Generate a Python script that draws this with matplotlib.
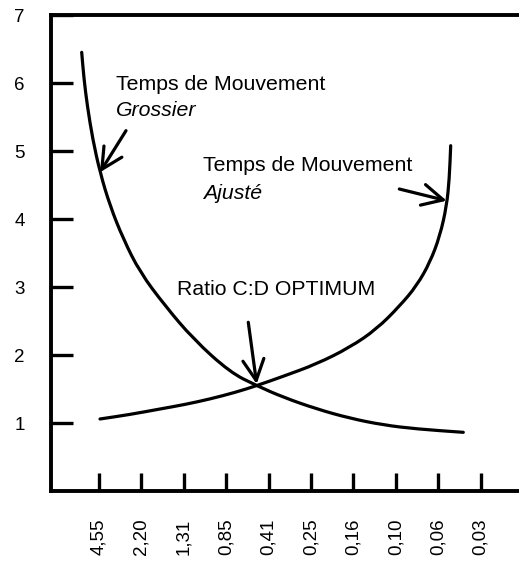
import matplotlib
matplotlib.use('Agg')
import matplotlib.pyplot as plt
from matplotlib.path import Path
from matplotlib.patches import PathPatch

plt.rcParams['font.family'] = ['Liberation Sans', 'DejaVu Sans']

# tick labels (C:D ratio) and y values
x_labels = ['4,55', '2,20', '1,31', '0,85', '0,41', '0,25', '0,16', '0,10', '0,06', '0,03']
y_ticks = [1, 2, 3, 4, 5, 6, 7]

# Temps de Mouvement Grossier (decreasing curve)
gros_x = [-0.408, -0.354, -0.276, -0.149, 0.024, 0.259, 0.573, 0.967, 1.557,
          2.224, 3.090, 3.719, 4.347, 5.134, 5.920, 6.705, 7.493, 8.592]
gros_y = [6.451, 6.059, 5.666, 5.176, 4.687, 4.196, 3.706, 3.216, 2.725,
          2.235, 1.746, 1.549, 1.378, 1.206, 1.069, 0.971, 0.912, 0.863]

# Temps de Mouvement Ajuste (increasing curve)
ajus_x = [0.024, 0.731, 1.439, 2.028, 2.618, 3.208, 3.719, 4.347, 5.134,
          5.920, 6.550, 7.099, 7.493, 7.807, 8.042, 8.200, 8.262, 8.295]
ajus_y = [1.059, 1.125, 1.206, 1.272, 1.353, 1.449, 1.549, 1.687, 1.868,
          2.113, 2.382, 2.725, 3.019, 3.363, 3.754, 4.196, 4.588, 5.078]


def smooth_path(xs, ys):
    # quadratic bezier through midpoints, read points used as control points
    pts = list(zip(xs, ys))
    verts = [pts[0]]
    codes = [Path.MOVETO]
    mid = ((pts[0][0] + pts[1][0]) / 2, (pts[0][1] + pts[1][1]) / 2)
    verts.append(mid)
    codes.append(Path.LINETO)
    for i in range(1, len(pts) - 1):
        nxt = ((pts[i][0] + pts[i + 1][0]) / 2, (pts[i][1] + pts[i + 1][1]) / 2)
        verts += [pts[i], nxt]
        codes += [Path.CURVE3, Path.CURVE3]
    verts.append(pts[-1])
    codes.append(Path.LINETO)
    return Path(verts, codes)


fig = plt.figure(figsize=(5.19, 5.62), dpi=100)
ax = fig.add_axes([51/519, 71/562, 468/519, 476/562])

for xs, ys in [(gros_x, gros_y), (ajus_x, ajus_y)]:
    ax.add_patch(PathPatch(smooth_path(xs, ys), facecolor='none',
                           edgecolor='black', lw=2.3, capstyle='round'))

arrow = dict(arrowstyle='->,head_length=0.75,head_width=0.38', color='black',
             lw=2.3, shrinkA=0, shrinkB=0, mutation_scale=20)
ax.annotate('', xy=(0.024, 4.687), xytext=(0.637, 5.299), arrowprops=arrow)
ax.annotate('', xy=(8.200, 4.269), xytext=(7.083, 4.441), arrowprops=arrow)
ax.annotate('', xy=(3.719, 1.574), xytext=(3.521, 2.481), arrowprops=arrow)

fs = 15.3
ax.text(0.41, 5.897, 'Temps de Mouvement', fontsize=fs, va='baseline')
ax.text(0.41, 5.515, 'Grossier', fontsize=fs, va='baseline', style='italic')
ax.text(2.46, 4.699, 'Temps de Mouvement', fontsize=fs, va='baseline')
ax.text(2.46, 4.294, 'Ajusté', fontsize=fs, va='baseline', style='italic')
ax.text(1.85, 2.882, 'Ratio C:D OPTIMUM', fontsize=fs, va='baseline')

ax.set_xlim(-1.132, 9.906)
ax.set_ylim(0, 7)
ax.set_xticks(range(len(x_labels)))
ax.set_xticklabels(x_labels, rotation=90)
ax.set_yticks(y_ticks)
ax.set_yticklabels([str(v) for v in y_ticks])

ax.tick_params(axis='y', direction='in', length=16, width=2.4, pad=19, labelsize=13.5)
ax.tick_params(axis='x', direction='in', length=13, width=2.4, pad=20, labelsize=13.5)

ax.spines['right'].set_visible(False)
for s in ['left', 'top', 'bottom']:
    ax.spines[s].set_linewidth(2.8)
    ax.spines[s].set_capstyle('projecting')

fig.savefig('out.png', dpi=100)
